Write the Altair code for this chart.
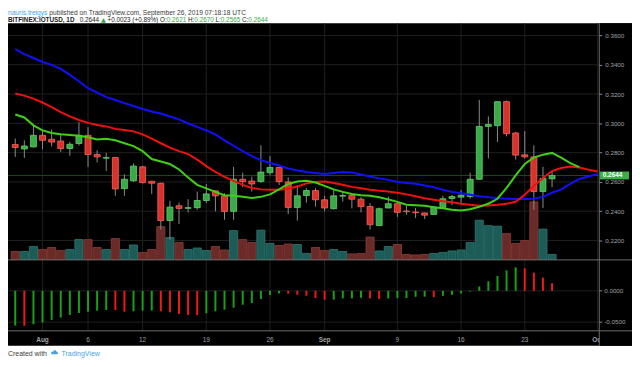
import altair as alt
import numpy as np
import pandas as pd

# ---------------- data ----------------
start_date = "2019-07-29"

opens = [0.2855, 0.2825, 0.2839, 0.2918, 0.2891, 0.2879, 0.2828, 0.2862, 0.2918, 0.2787,
         0.2762, 0.2767, 0.2554, 0.2608, 0.2703, 0.2604, 0.2591, 0.2336, 0.2437, 0.2420,
         0.2424, 0.2473, 0.2539, 0.2505, 0.2399, 0.2618, 0.2606, 0.2602, 0.2663, 0.2699,
         0.2600, 0.2426, 0.2507, 0.2541, 0.2478, 0.2417, 0.2503, 0.2509, 0.2482, 0.2432,
         0.2302, 0.2422, 0.2451, 0.2401, 0.2394, 0.2388, 0.2378, 0.2426, 0.2487, 0.2496,
         0.2500, 0.2618, 0.2979, 0.2984, 0.3148, 0.2934, 0.2785, 0.2771, 0.2534, 0.2621]
highs = [0.2896, 0.2884, 0.2986, 0.2947, 0.2957, 0.2925, 0.2873, 0.3008, 0.2974, 0.2816,
         0.2798, 0.2770, 0.2652, 0.2726, 0.2710, 0.2608, 0.2595, 0.2471, 0.2459, 0.2482,
         0.2534, 0.2586, 0.2539, 0.2523, 0.2703, 0.2663, 0.2636, 0.2850, 0.2776, 0.2702,
         0.2631, 0.2579, 0.2557, 0.2557, 0.2505, 0.2545, 0.2534, 0.2518, 0.2496, 0.2455,
         0.2426, 0.2500, 0.2453, 0.2437, 0.2422, 0.2390, 0.2437, 0.2505, 0.2511, 0.2545,
         0.2663, 0.3160, 0.3047, 0.3150, 0.3155, 0.2940, 0.2947, 0.2850, 0.2703, 0.2670]
lows = [0.2771, 0.2764, 0.2835, 0.2823, 0.2843, 0.2805, 0.2778, 0.2848, 0.2703, 0.2733,
        0.2674, 0.2505, 0.2505, 0.2600, 0.2590, 0.2518, 0.2275, 0.2207, 0.2313, 0.2392,
        0.2410, 0.2455, 0.2399, 0.2342, 0.2342, 0.2564, 0.2534, 0.2595, 0.2647, 0.2579,
        0.2381, 0.2336, 0.2459, 0.2432, 0.2399, 0.2412, 0.2466, 0.2419, 0.2392, 0.2275,
        0.2298, 0.2420, 0.2361, 0.2376, 0.2354, 0.2347, 0.2375, 0.2422, 0.2442, 0.2444,
        0.2485, 0.2615, 0.2760, 0.2873, 0.2911, 0.2753, 0.2760, 0.2410, 0.2422, 0.2565]
closes = [0.2835, 0.2845, 0.2918, 0.2884, 0.2872, 0.2828, 0.2857, 0.2918, 0.2787, 0.2771,
          0.2766, 0.2552, 0.2618, 0.2708, 0.2595, 0.2591, 0.2336, 0.2428, 0.2419, 0.2424,
          0.2473, 0.2518, 0.2505, 0.2399, 0.2618, 0.2602, 0.2586, 0.2667, 0.2699, 0.2602,
          0.2426, 0.2505, 0.2541, 0.2478, 0.2422, 0.2505, 0.2507, 0.2482, 0.2432, 0.2308,
          0.2417, 0.2451, 0.2392, 0.2397, 0.2390, 0.2373, 0.2428, 0.2485, 0.2500, 0.2509,
          0.2618, 0.2979, 0.2992, 0.3148, 0.2929, 0.2783, 0.2771, 0.2534, 0.2624, 0.2644]
volumes = [8, 8, 13, 10, 12, 9, 10, 20, 20, 12,
           10, 21, 10, 14.5, 7, 10, 33, 22, 17, 10,
           11.5, 9, 13, 9.5, 29, 20, 17, 29.5, 16, 14,
           15.5, 15, 6, 12, 9, 10, 8, 5.5, 6, 22.5,
           8.5, 13, 15, 5, 4.5, 5, 6, 7, 8.5, 9.5,
           17, 39.5, 34, 33.5, 26, 16, 19, 58, 30.5, 5]

# Alligator lines (jaw / teeth / lips), displaced forward
ma_blue = [0.3507, 0.3473, 0.3446, 0.3419, 0.3399, 0.3372, 0.3331, 0.3287, 0.3240, 0.3209,
           0.3179, 0.3159, 0.3138, 0.3118, 0.3098, 0.3081, 0.3067, 0.3047, 0.3027, 0.2999,
           0.2976, 0.2952, 0.2925, 0.2884, 0.2847, 0.2810, 0.2776, 0.2749, 0.2729, 0.2712,
           0.2691, 0.2678, 0.2668, 0.2661, 0.2654, 0.2661, 0.2668, 0.2664, 0.2651, 0.2637,
           0.2624, 0.2614, 0.2600, 0.2593, 0.2587, 0.2576, 0.2563, 0.2546, 0.2532, 0.2522,
           0.2512, 0.2502, 0.2495, 0.2490, 0.2485, 0.2483, 0.2483, 0.2485, 0.2498, 0.2526,
           0.2549, 0.2587, 0.2620, 0.2637, 0.2654]
ma_red = [0.3203, 0.3189, 0.3169, 0.3142, 0.3111, 0.3077, 0.3047, 0.3023, 0.3003, 0.2989,
          0.2979, 0.2962, 0.2955, 0.2945, 0.2925, 0.2895, 0.2864, 0.2834, 0.2810, 0.2790,
          0.2752, 0.2708, 0.2668, 0.2634, 0.2607, 0.2580, 0.2559, 0.2549, 0.2546, 0.2546,
          0.2553, 0.2569, 0.2590, 0.2600, 0.2602, 0.2593, 0.2580, 0.2566, 0.2556, 0.2546,
          0.2539, 0.2535, 0.2526, 0.2515, 0.2502, 0.2488, 0.2478, 0.2468, 0.2461, 0.2451,
          0.2444, 0.2437, 0.2439, 0.2444, 0.2451, 0.2464, 0.2512, 0.2573, 0.2627, 0.2674,
          0.2695, 0.2705, 0.2698, 0.2684, 0.2671]
ma_green = [0.3060, 0.3040, 0.2986, 0.2952, 0.2934, 0.2925, 0.2920, 0.2915, 0.2905, 0.2889,
            0.2895, 0.2884, 0.2864, 0.2844, 0.2810, 0.2756, 0.2739, 0.2722, 0.2685, 0.2630,
            0.2580, 0.2556, 0.2532, 0.2509, 0.2505, 0.2498, 0.2490, 0.2498, 0.2515, 0.2549,
            0.2586, 0.2603, 0.2608, 0.2596, 0.2573, 0.2549, 0.2532, 0.2518, 0.2509, 0.2505,
            0.2495, 0.2481, 0.2464, 0.2444, 0.2440, 0.2437, 0.2427, 0.2420, 0.2410, 0.2405,
            0.2413, 0.2430, 0.2451, 0.2485, 0.2559, 0.2644, 0.2722, 0.2766, 0.2786, 0.2798,
            0.2766, 0.2728, 0.2701]

# Awesome oscillator histogram
ao = [-0.0554, -0.0556, -0.0532, -0.0506, -0.0464, -0.0427, -0.0385, -0.0353, -0.0332, -0.0316,
      -0.0306, -0.0308, -0.0332, -0.0327, -0.0316, -0.0314, -0.0327, -0.0343, -0.0369, -0.0385,
      -0.0387, -0.0358, -0.0327, -0.0301, -0.0269, -0.0222, -0.0195, -0.0131, -0.0068, -0.0041,
      -0.0045, -0.0063, -0.0079, -0.0116, -0.0142, -0.0140, -0.0121, -0.0120, -0.0111, -0.0121,
      -0.0131, -0.0121, -0.0119, -0.0116, -0.0095, -0.0093, -0.0100, -0.0079, -0.0063, -0.0042,
      -0.0011, 0.0070, 0.0153, 0.0237, 0.0327, 0.0375, 0.0359, 0.0291, 0.0211, 0.0122]

tick_dates = ["2019-08-01", "2019-08-06", "2019-08-12", "2019-08-19", "2019-08-26",
              "2019-09-01", "2019-09-09", "2019-09-16", "2019-09-23", "2019-10-01"]
tick_labels = ["Aug", "6", "12", "19", "26", "Sep", "9", "16", "23", "Oct"]
tick_is_month = [True, False, False, False, False, True, False, False, False, True]

price_ticks = [0.22, 0.24, 0.26, 0.28, 0.30, 0.32, 0.34, 0.36]
osc_ticks = [0.0, -0.05]
osc_labels = ["0.0000", "-0.0500"]
last_close = [0.2644]
last_label = ["0.2644"]

header_line1 = [("nauris.treigys", "link"), ("published on TradingView.com, September 26, 2019 07:18:18 UTC", "muted")]
header_line2 = [("BITFINEX:IOTUSD, 1D", "bold"), ("0.2644", "dark"), ("▲", "up"),
                ("+0.0023 (+0.89%)", "dark"), ("O:", "dark+"), ("0.2621", "up"),
                ("H:", "dark+"), ("0.2670", "up"), ("L:", "dark+"), ("0.2565", "up"),
                ("C:", "dark+"), ("0.2644", "up")]
footer = [("Created with", "muted"), ("TradingView", "link")]

# ---------------- styling ----------------
C_UP, C_UP_S = "#3aaa47", "#63cf6c"
C_DN, C_DN_S = "#d8322a", "#f7675c"
V_UP, V_UP_S = "#1d5b57", "#2c7b75"
V_DN, V_DN_S = "#6a2a27", "#8d3e39"
O_UP, O_DN = "#1a9f1a", "#f01818"
GRID = "#1f1f1f"
AXC = "#6e6e6e"
LBL = "#a3a3a3"
FONT = "Liberation Sans"
STYLE = {"link": ("#4a9fe0", "normal"), "muted": ("#3a3a3a", "normal"), "bold": ("#1a1a1a", "bold"),
         "dark": ("#1a1a1a", "normal"), "dark+": ("#1a1a1a", "normal"), "up": ("#38a845", "normal")}

W, H = 595.5, 238

# approximate Arial / Liberation Sans advance widths (em)
_AW = {" ": .278, "(": .333, ")": .333, "+": .584, ",": .278, "-": .333, ".": .278, ":": .278,
       "%": .889, "A": .667, "B": .667, "C": .722, "D": .722, "E": .667, "F": .611, "H": .722,
       "I": .278, "L": .556, "N": .722, "O": .778, "S": .667, "T": .611, "U": .722, "V": .667,
       "X": .667, "m": .833, "w": .722, "i": .222, "l": .222, "r": .333, "t": .278, "c": .5,
       "s": .5, "v": .5, "y": .5, "▲": .77}


def em(s, bold=False):
    w = sum(_AW.get(ch, .556) for ch in s)
    return w * (1.06 if bold else 1.0)


# ---------------- tables ----------------
d0 = pd.Timestamp(start_date)
cdf = pd.DataFrame({"open": opens, "high": highs, "low": lows, "close": closes, "vol": volumes})
cdf["idx"] = np.arange(len(cdf))
cdf["date"] = [(d0 + pd.Timedelta(days=int(i))).strftime("%Y-%m-%d") for i in cdf["idx"]]
up = cdf["close"] >= cdf["open"]
cdf["bfill"] = np.where(up, C_UP, C_DN)
cdf["bstroke"] = np.where(up, C_UP_S, C_DN_S)
cdf["vfill"] = np.where(up, V_UP, V_DN)
cdf["vstroke"] = np.where(up, V_UP_S, V_DN_S)

rows = []
for name, vals, col in [("jaw", ma_blue, "#1010ff"), ("teeth", ma_red, "#f01010"), ("lips", ma_green, "#3fd014")]:
    for i, v in enumerate(vals):
        rows.append({"series": name, "idx": i, "value": v, "col": col})
ldf = pd.DataFrame(rows)

odf = pd.DataFrame({"idx": np.arange(len(ao)), "ao": ao})
prev = odf["ao"].shift(1)
odf["col"] = np.where(prev.isna() | (odf["ao"] >= prev), O_UP, O_DN)

tdf = pd.DataFrame({"label": tick_labels, "month": tick_is_month})
tdf["idx"] = [(pd.Timestamp(d) - d0).days for d in tick_dates]

pdf = pd.DataFrame({"p": price_ticks})
gdf = pd.DataFrame({"v": osc_ticks, "label": osc_labels})
cl = pd.DataFrame({"close": last_close, "label": last_label})

xs = alt.Scale(domain=[0, 63], range=[2.3, 590.1], nice=False, zero=False)
ys_p = alt.Scale(domain=[0.2071, 0.3683], range=[H, 0], nice=False, zero=False)
ys_v = alt.Scale(domain=[0, 238], range=[H, 0], nice=False, zero=False)
ys_o = alt.Scale(domain=[-0.0638, 0.0486], range=[310, 239], nice=False, zero=False)

X = lambda f="idx": alt.X(f + ":Q", scale=xs, axis=None)
one = pd.DataFrame({"k": [0]})

layers = []
# black canvas
layers.append(alt.Chart(one).mark_rect(color="#000000").encode(
    x=alt.value(-2), x2=alt.value(629), y=alt.value(0), y2=alt.value(325)))
# grids
layers.append(alt.Chart(pdf).mark_rule(color=GRID, strokeWidth=1).encode(
    y=alt.Y("p:Q", scale=ys_p, axis=None), x=alt.value(0), x2=alt.value(W)))
layers.append(alt.Chart(gdf).mark_rule(color=GRID, strokeWidth=1).encode(
    y=alt.Y("v:Q", scale=ys_o, axis=None), x=alt.value(0), x2=alt.value(W)))
layers.append(alt.Chart(tdf).mark_rule(color=GRID, strokeWidth=1).encode(
    x=X(), y=alt.value(0), y2=alt.value(310)))
# last price line
layers.append(alt.Chart(cl).mark_rule(color="#1c4a1c", strokeWidth=1).encode(
    y=alt.Y("close:Q", scale=ys_p, axis=None), x=alt.value(0), x2=alt.value(W)))
# volume
layers.append(alt.Chart(cdf).mark_bar(width=8.2, strokeWidth=0.8).encode(
    x=X(), y=alt.Y("vol:Q", scale=ys_v, axis=None), y2=alt.datum(0),
    fill=alt.Fill("vfill:N", scale=None), stroke=alt.Stroke("vstroke:N", scale=None)))
# candles
price_axis = alt.Axis(orient="right", values=price_ticks, format=".4f", grid=False, domain=False,
                      ticks=True, tickSize=3, tickColor="#8a8a8a", labelColor=LBL,
                      labelFontSize=6.3, labelFont=FONT, labelPadding=3, title=None,
                      labelOverlap=False, labelFlush=False, zindex=2)
layers.append(alt.Chart(cdf).mark_rule(color="#8c8c8c", strokeWidth=1).encode(
    x=X(), y=alt.Y("low:Q", scale=ys_p, axis=price_axis), y2="high:Q"))
layers.append(alt.Chart(cdf).mark_bar(width=6, strokeWidth=0.8).encode(
    x=X(), y=alt.Y("open:Q", scale=ys_p, axis=None), y2="close:Q",
    fill=alt.Fill("bfill:N", scale=None), stroke=alt.Stroke("bstroke:N", scale=None)))
# alligator lines
layers.append(alt.Chart(ldf).mark_line(strokeWidth=2, clip=True).encode(
    x=X(), y=alt.Y("value:Q", scale=ys_p, axis=None),
    color=alt.Color("col:N", scale=None), detail="series:N"))
# oscillator
layers.append(alt.Chart(odf).mark_bar(width=2).encode(
    x=X(), y=alt.Y("ao:Q", scale=ys_o, axis=None), y2=alt.datum(0),
    fill=alt.Fill("col:N", scale=None)))
# time labels
layers.append(alt.Chart(tdf).transform_filter("!datum.month").mark_text(
    font=FONT, fontSize=6.5, color=LBL, baseline="middle").encode(
    x=X(), y=alt.value(319), text="label:N"))
layers.append(alt.Chart(tdf).transform_filter("datum.month").mark_text(
    font=FONT, fontSize=6.5, fontWeight="bold", color=LBL, baseline="middle").encode(
    x=X(), y=alt.value(319), text="label:N"))
# price-scale panel
layers.append(alt.Chart(one).mark_rect(color="#000000").encode(
    x=alt.value(596), x2=alt.value(629), y=alt.value(0), y2=alt.value(325)))
for (xa, xb, ya, yb) in [(596, 596, 0, 325), (0, 629, 238.5, 238.5), (0, 629, 310, 310)]:
    layers.append(alt.Chart(one).mark_rule(color=AXC, strokeWidth=1).encode(
        x=alt.value(xa), x2=alt.value(xb), y=alt.value(ya), y2=alt.value(yb)))
# oscillator scale labels
layers.append(alt.Chart(gdf).mark_rule(color="#8a8a8a").encode(
    y=alt.Y("v:Q", scale=ys_o, axis=None), x=alt.value(596), x2=alt.value(599)))
layers.append(alt.Chart(gdf).mark_text(font=FONT, fontSize=6.3, color=LBL, align="left",
                                       baseline="middle").encode(
    y=alt.Y("v:Q", scale=ys_o, axis=None), x=alt.value(601), text="label:N"))
# last price tag
layers.append(alt.Chart(cl).transform_calculate(
    top="datum.close + 0.0027", bot="datum.close - 0.0027").mark_rect(color="#3cae4a").encode(
    y=alt.Y("top:Q", scale=ys_p, axis=None), y2="bot:Q", x=alt.value(596.5), x2=alt.value(626)))
layers.append(alt.Chart(cl).mark_text(font=FONT, fontSize=6.5, fontWeight="bold", color="#ffffff",
                                      align="left", baseline="middle").encode(
    y=alt.Y("close:Q", scale=ys_p, axis=None), x=alt.value(599.5), text="label:N"))


# header and footer text, laid out segment after segment
def txt(s, x, y, color, weight="normal", size=6.4, font=FONT):
    return alt.Chart(pd.DataFrame({"t": [s]})).mark_text(
        font=font, fontSize=size, fontWeight=weight, color=color, align="left",
        baseline="alphabetic").encode(x=alt.value(x), y=alt.value(y), text="t:N")


def text_line(segments, x0, y, size):
    out, x = [], x0
    for s, kind in segments:
        color, weight = STYLE[kind]
        font = "DejaVu Sans" if s == "▲" else FONT
        out.append(txt(s, x, y, color, weight, size, font))
        x += em(s, weight == "bold") * size
        if kind != "dark+":
            x += em(" ") * size
    return out


layers += text_line(header_line1, 0, -8.0, 6.7)
layers += text_line(header_line2, 0, -1.6, 6.4)
layers += text_line(footer[:1], 0, 335, 7)
layers += text_line(footer[1:], 54, 335, 7)
layers.append(alt.Chart(one).mark_point(
    shape="M-1,0.5 C-1.2,0 -0.8,-0.45 -0.4,-0.3 C-0.25,-0.8 0.45,-0.85 0.6,-0.25 C1,-0.25 1.15,0.35 0.8,0.5 Z",
    filled=True, color="#4a9fe0", opacity=1, size=45).encode(x=alt.value(47), y=alt.value(332)))

chart = alt.layer(*layers).resolve_scale(y="independent").properties(
    width=W, height=H,
    autosize=alt.AutoSizeParams(type="none"),
    padding={"left": 0, "top": 14, "right": 33.5, "bottom": 99},
    background="#ffffff",
).configure_view(stroke=None)

chart.save("out.html", embed_options={"renderer": "svg", "actions": False})
